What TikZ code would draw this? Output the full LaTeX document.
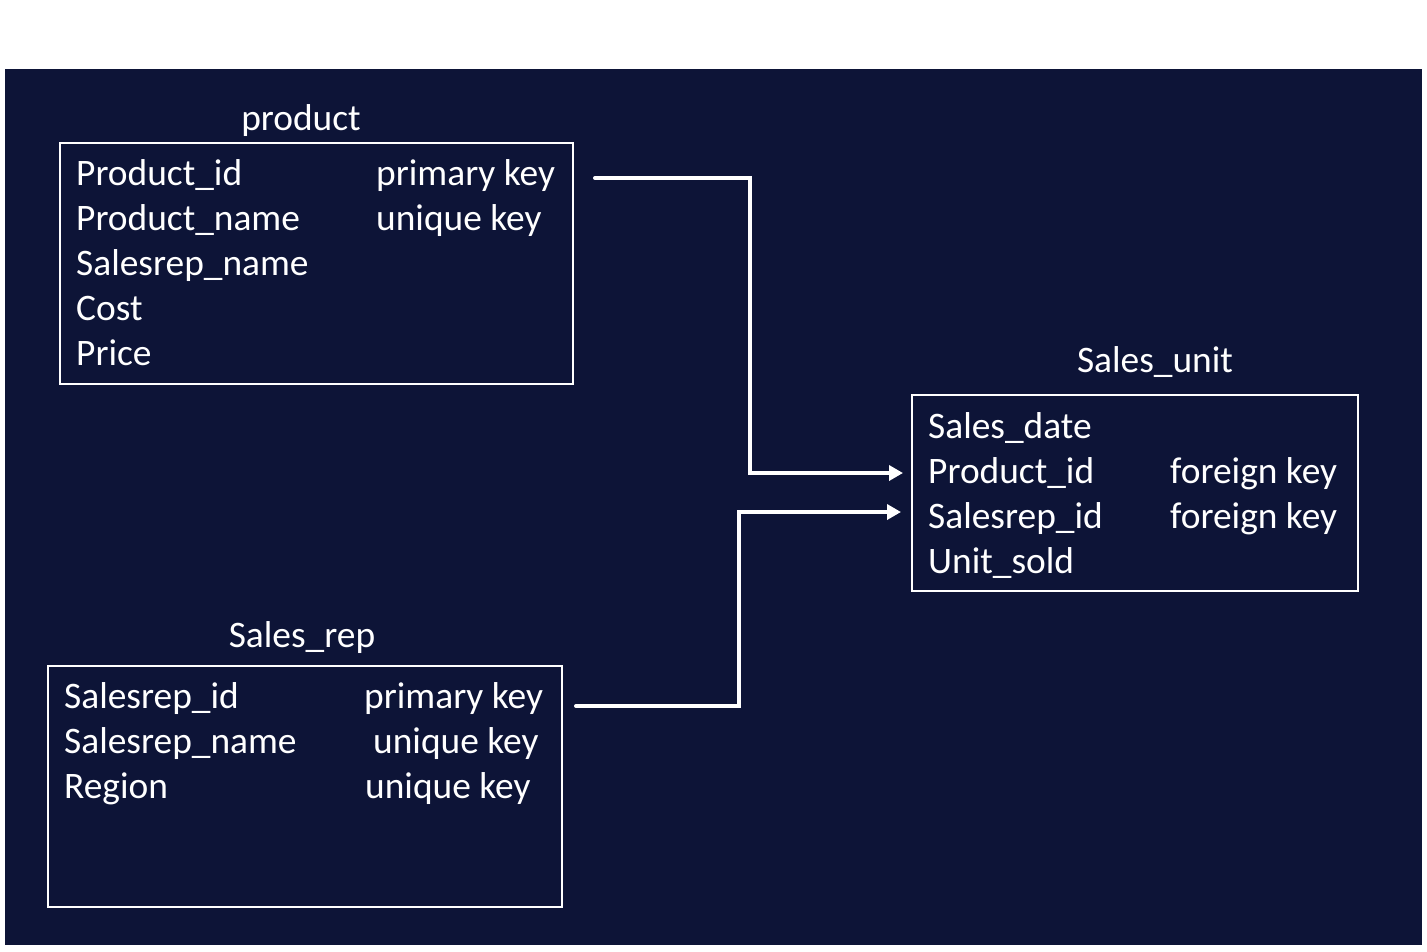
\documentclass[tikz,border=0pt]{standalone}
\usepackage{fontspec}
\setmainfont{Carlito}
\usetikzlibrary{arrows.meta}
\definecolor{navy}{RGB}{13,20,55}
\tikzset{
  txt/.style={text=white, inner sep=0pt, anchor=base west, font=\fontsize{37.4}{45}\selectfont},
  ttl/.style={text=white, inner sep=0pt, anchor=base, font=\fontsize{37.4}{45}\selectfont},
  tbox/.style={draw=white, line width=2pt, anchor=north west, inner sep=0pt, outer sep=0pt},
  conn/.style={draw=white, line width=4pt, -{Triangle[length=14pt,width=15pt]}}
}
\begin{document}
\begin{tikzpicture}[x=1pt,y=-1pt]
\useasboundingbox (0,0) rectangle (1427,951);
\fill[white] (0,0) rectangle (1427,951);
\fill[navy] (5,69) rectangle (1422,945);

% product
\node[ttl] (ptitle) at (301,130) {product};
\node[tbox, minimum width=513pt, minimum height=241pt] (pbox) at (60,143) {};
\node[txt] (p1) at (76,185) {Product\_id};
\node[txt] (p2) at (76,230) {Product\_name};
\node[txt] (p3) at (76,275) {Salesrep\_name};
\node[txt] (p4) at (76,320) {Cost};
\node[txt] (p5) at (76,365) {Price};
\node[txt] (pk1) at (376,185) {primary key};
\node[txt] (pk2) at (376,230) {unique key};

% Sales_unit
\node[ttl] (utitle) at (1155,372) {Sales\_unit};
\node[tbox, minimum width=446pt, minimum height=196pt] (ubox) at (912,395) {};
\node[txt] (u1) at (928,438) {Sales\_date};
\node[txt] (u2) at (928,483) {Product\_id};
\node[txt] (u3) at (928,528) {Salesrep\_id};
\node[txt] (u4) at (928,573) {Unit\_sold};
\node[txt] (uk2) at (1170,483) {foreign key};
\node[txt] (uk3) at (1170,528) {foreign key};

% Sales_rep
\node[ttl] (rtitle) at (302,647) {Sales\_rep};
\node[tbox, minimum width=514pt, minimum height=241pt] (rbox) at (48,666) {};
\node[txt] (r1) at (64,708) {Salesrep\_id};
\node[txt] (r2) at (64,753) {Salesrep\_name};
\node[txt] (r3) at (64,798) {Region};
\node[txt] (rk1) at (364,708) {primary key};
\node[txt] (rk2) at (373,753) {unique key};
\node[txt] (rk3) at (365,798) {unique key};

% connectors
\coordinate (c1s) at (595,178);
\coordinate (c1e) at (903,473);
\coordinate (c2s) at (576,706);
\coordinate (c2e) at (901,512);
\draw[conn, line cap=round] (c1s) -- (750,178) -- (750,473) -- (c1e);
\draw[conn, line cap=round] (c2s) -- (739,706) -- (739,512) -- (c2e);
\end{tikzpicture}
\end{document}
